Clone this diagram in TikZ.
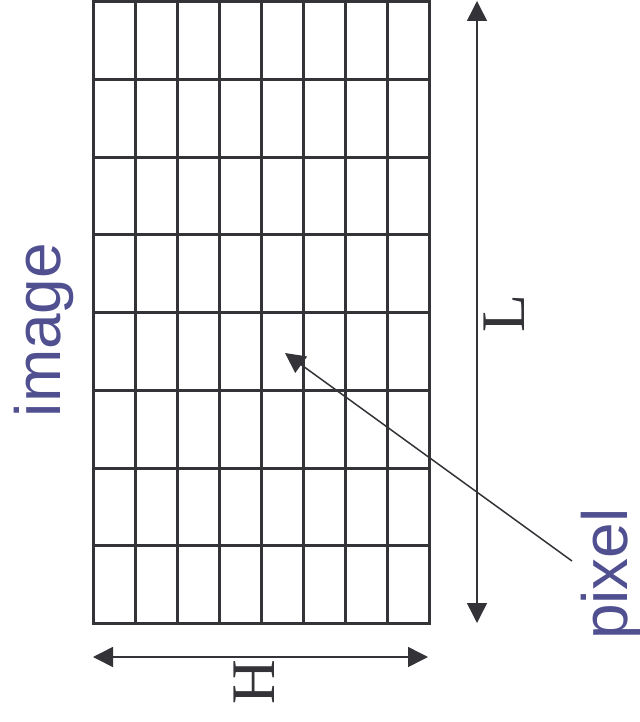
\documentclass[tikz,border=0pt]{standalone}
\usepackage{fontspec}
\setmainfont{Liberation Serif}
\setsansfont{Liberation Sans}
\usetikzlibrary{arrows.meta}
\definecolor{inkgray}{RGB}{51,51,56}
\definecolor{labelblue}{RGB}{80,80,145}
\tikzset{
  gridline/.style={draw=inkgray, line width=1.5pt, line cap=rect},
  dimline/.style={draw=inkgray, line width=0.75pt, {Triangle[length=10pt,width=10pt]}-{Triangle[length=10pt,width=10pt]}},
  pointer/.style={draw=inkgray, line width=0.75pt, -{Triangle[length=10pt,width=10pt]}},
  dimlabel/.style={text=inkgray, font=\fontsize{31}{31}\selectfont, rotate=90, inner sep=0pt},
  namelabel/.style={text=labelblue, font=\sffamily\fontsize{32}{33}\selectfont, rotate=90, inner sep=0pt}
}
\begin{document}
\begin{tikzpicture}[x=0.5pt, y=-0.5pt]
  \useasboundingbox (0,0) rectangle (640,722);

  % Pixel grid (8 x 8)
  \foreach \i in {0,...,8}
    \draw[gridline] (93+42*\i,1.5) -- (93+42*\i,623.5);
  \foreach \j in {0,...,8}
    \draw[gridline] (93,1.5+77.75*\j) -- (429,1.5+77.75*\j);

  % Dimension arrows
  \coordinate (ltop) at (477,1);
  \coordinate (lbot) at (477,623);
  \draw[dimline] (ltop) -- (lbot);
  \node[dimlabel] (lname) at (504,314) {L};

  \coordinate (hleft) at (93,657);
  \coordinate (hright) at (428,657);
  \draw[dimline] (hleft) -- (hright);
  \node[dimlabel] (hname) at (254,682) {H};

  % Labels
  \node[namelabel] (image) at (44,330) {image};
  \node[namelabel] (pixel) at (611,574) {pixel};

  \coordinate (ptail) at (572,561);
  \coordinate (phead) at (285,353);
  \draw[pointer] (ptail) -- (phead);
\end{tikzpicture}
\end{document}
